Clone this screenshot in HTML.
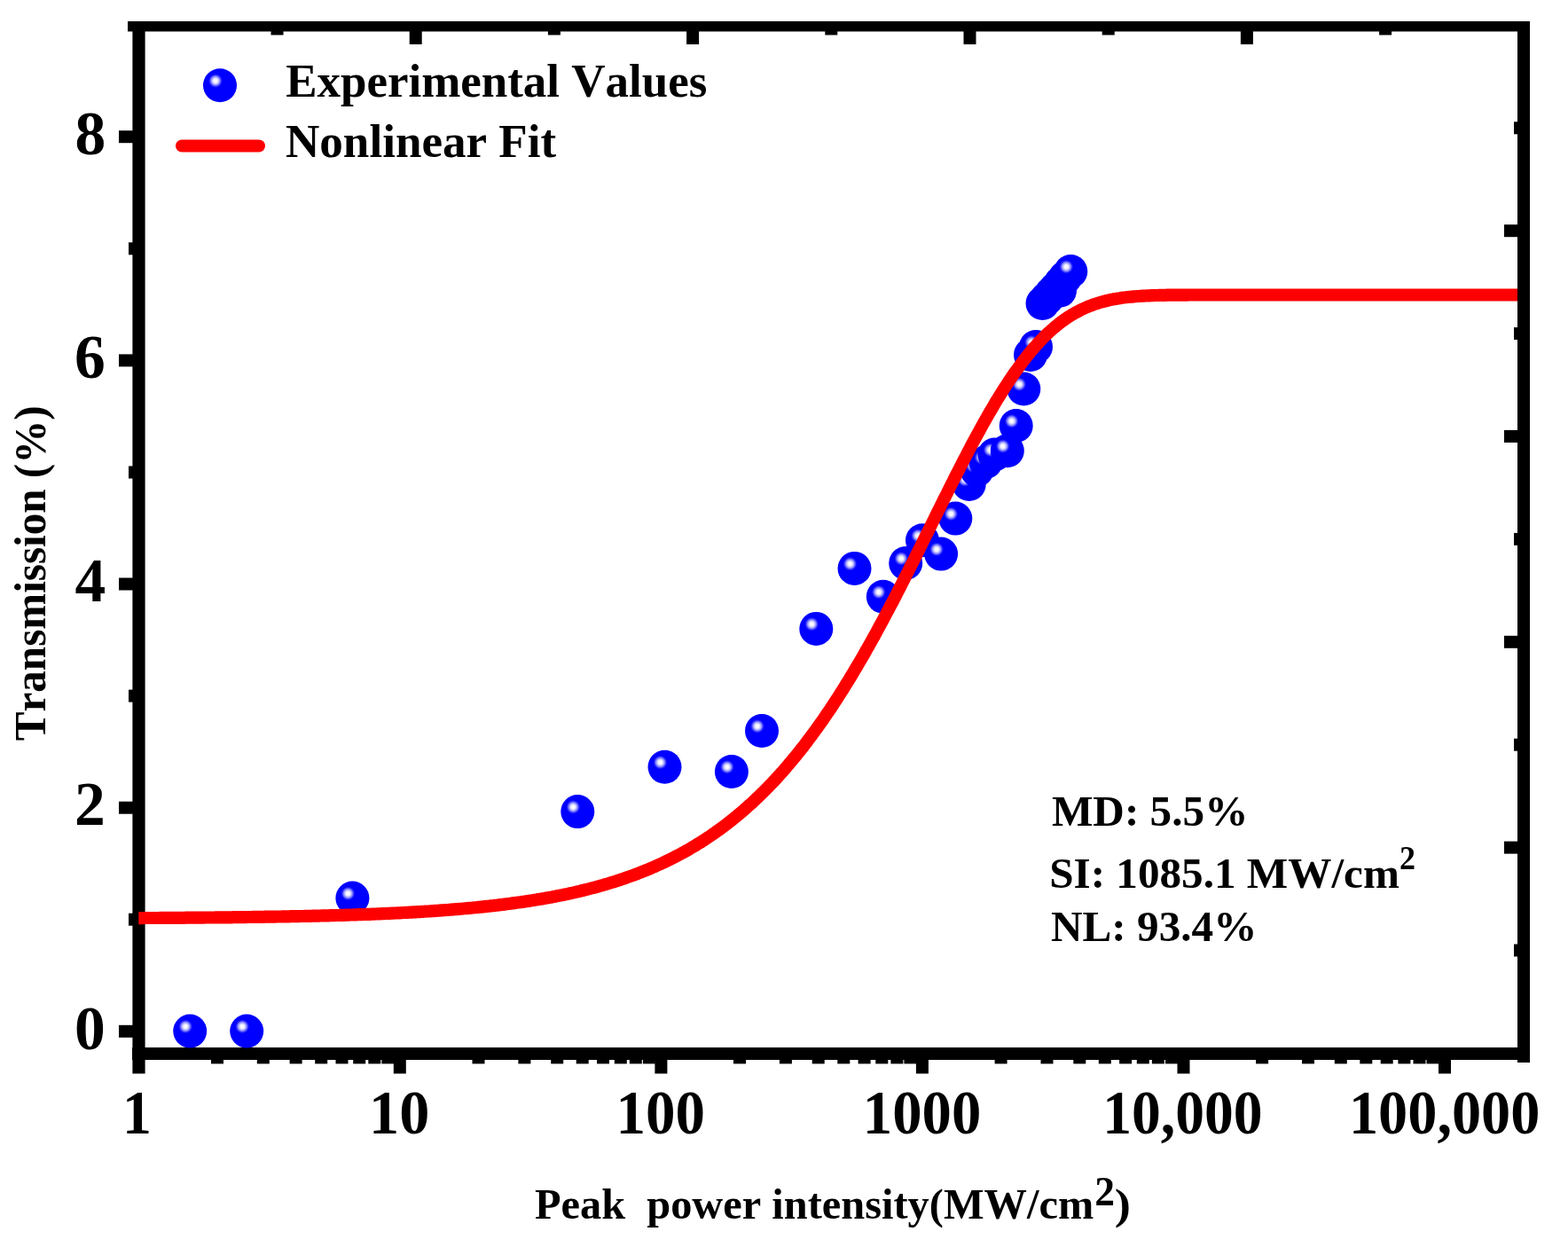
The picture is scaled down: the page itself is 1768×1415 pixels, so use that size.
<!DOCTYPE html><html><head><meta charset="utf-8"><title>Transmission vs Peak power intensity</title><style>html,body{margin:0;padding:0;background:#fff;overflow:hidden;}svg{display:block;}text{font-family:"Liberation Serif","Times New Roman",serif;font-weight:bold;fill:#000;font-kerning:none;white-space:pre;}</style></head><body><svg width="1768" height="1415" viewBox="0 0 1768 1415"><defs><radialGradient id="sph" cx="0.368" cy="0.363" r="0.21" fx="0.368" fy="0.363"><stop offset="0" stop-color="#ffffff"/><stop offset="0.3" stop-color="#f0f0ff"/><stop offset="0.6" stop-color="#9090ff"/><stop offset="0.85" stop-color="#2020ff"/><stop offset="1" stop-color="#0000ff"/></radialGradient></defs><rect x="0" y="0" width="1768" height="1415" fill="#fff"/><g fill="#000"><rect x="144.0" y="24.0" width="1581.0" height="11.5"/><rect x="149.4" y="24.0" width="14.2" height="1186.5"/><rect x="1711.0" y="24.0" width="14.0" height="1174.0"/><rect x="149.0" y="1181.0" width="1576.0" height="14.0"/><rect x="238.0" y="1188.0" width="14.0" height="11.4"/><rect x="289.8" y="1188.0" width="14.0" height="11.4"/><rect x="326.6" y="1188.0" width="14.0" height="11.4"/><rect x="355.2" y="1188.0" width="14.0" height="11.4"/><rect x="378.5" y="1188.0" width="14.0" height="11.4"/><rect x="398.2" y="1188.0" width="14.0" height="11.4"/><rect x="415.3" y="1188.0" width="14.0" height="11.4"/><rect x="430.4" y="1188.0" width="14.0" height="11.4"/><rect x="443.8" y="1188.0" width="14.0" height="22.5"/><rect x="532.5" y="1188.0" width="14.0" height="11.4"/><rect x="584.4" y="1188.0" width="14.0" height="11.4"/><rect x="621.2" y="1188.0" width="14.0" height="11.4"/><rect x="649.7" y="1188.0" width="14.0" height="11.4"/><rect x="673.0" y="1188.0" width="14.0" height="11.4"/><rect x="692.8" y="1188.0" width="14.0" height="11.4"/><rect x="709.8" y="1188.0" width="14.0" height="11.4"/><rect x="724.9" y="1188.0" width="14.0" height="11.4"/><rect x="738.4" y="1188.0" width="14.0" height="22.5"/><rect x="827.0" y="1188.0" width="14.0" height="11.4"/><rect x="878.9" y="1188.0" width="14.0" height="11.4"/><rect x="915.7" y="1188.0" width="14.0" height="11.4"/><rect x="944.3" y="1188.0" width="14.0" height="11.4"/><rect x="967.6" y="1188.0" width="14.0" height="11.4"/><rect x="987.3" y="1188.0" width="14.0" height="11.4"/><rect x="1004.4" y="1188.0" width="14.0" height="11.4"/><rect x="1019.4" y="1188.0" width="14.0" height="11.4"/><rect x="1032.9" y="1188.0" width="14.0" height="22.5"/><rect x="1121.6" y="1188.0" width="14.0" height="11.4"/><rect x="1173.5" y="1188.0" width="14.0" height="11.4"/><rect x="1210.3" y="1188.0" width="14.0" height="11.4"/><rect x="1238.8" y="1188.0" width="14.0" height="11.4"/><rect x="1262.1" y="1188.0" width="14.0" height="11.4"/><rect x="1281.8" y="1188.0" width="14.0" height="11.4"/><rect x="1298.9" y="1188.0" width="14.0" height="11.4"/><rect x="1314.0" y="1188.0" width="14.0" height="11.4"/><rect x="1327.5" y="1188.0" width="14.0" height="22.5"/><rect x="1416.1" y="1188.0" width="14.0" height="11.4"/><rect x="1468.0" y="1188.0" width="14.0" height="11.4"/><rect x="1504.8" y="1188.0" width="14.0" height="11.4"/><rect x="1533.3" y="1188.0" width="14.0" height="11.4"/><rect x="1556.7" y="1188.0" width="14.0" height="11.4"/><rect x="1576.4" y="1188.0" width="14.0" height="11.4"/><rect x="1593.5" y="1188.0" width="14.0" height="11.4"/><rect x="1608.5" y="1188.0" width="14.0" height="11.4"/><rect x="1622.0" y="1188.0" width="14.0" height="22.5"/><rect x="305.5" y="30.0" width="14.0" height="9.5"/><rect x="461.7" y="30.0" width="14.0" height="20.0"/><rect x="617.9" y="30.0" width="14.0" height="9.5"/><rect x="774.1" y="30.0" width="14.0" height="20.0"/><rect x="930.3" y="30.0" width="14.0" height="9.5"/><rect x="1086.5" y="30.0" width="14.0" height="20.0"/><rect x="1242.7" y="30.0" width="14.0" height="9.5"/><rect x="1398.9" y="30.0" width="14.0" height="20.0"/><rect x="1555.1" y="30.0" width="14.0" height="9.5"/><rect x="1707.0" y="137.3" width="11.0" height="14.0"/><rect x="1696.0" y="253.2" width="22.0" height="14.0"/><rect x="1707.0" y="369.1" width="11.0" height="14.0"/><rect x="1696.0" y="485.0" width="22.0" height="14.0"/><rect x="1707.0" y="600.9" width="11.0" height="14.0"/><rect x="1696.0" y="716.8" width="22.0" height="14.0"/><rect x="1707.0" y="832.7" width="11.0" height="14.0"/><rect x="1696.0" y="948.6" width="22.0" height="14.0"/><rect x="1707.0" y="1064.5" width="11.0" height="14.0"/><rect x="134.0" y="1155.8" width="22.0" height="14.0"/><rect x="145.0" y="1029.7" width="11.0" height="14.0"/><rect x="134.0" y="903.7" width="22.0" height="14.0"/><rect x="145.0" y="777.6" width="11.0" height="14.0"/><rect x="134.0" y="651.5" width="22.0" height="14.0"/><rect x="145.0" y="525.5" width="11.0" height="14.0"/><rect x="134.0" y="399.4" width="22.0" height="14.0"/><rect x="145.0" y="273.3" width="11.0" height="14.0"/><rect x="134.0" y="147.2" width="22.0" height="14.0"/></g><g><circle cx="214.2" cy="1162.6" r="19.0" fill="url(#sph)"/><circle cx="278.2" cy="1162.6" r="19.0" fill="url(#sph)"/><circle cx="397.4" cy="1012.6" r="19.0" fill="url(#sph)"/><circle cx="651.3" cy="915.1" r="19.0" fill="url(#sph)"/><circle cx="749.5" cy="864.8" r="19.0" fill="url(#sph)"/><circle cx="824.9" cy="870.0" r="19.0" fill="url(#sph)"/><circle cx="859.0" cy="824.0" r="19.0" fill="url(#sph)"/><circle cx="920.3" cy="708.9" r="19.0" fill="url(#sph)"/><circle cx="963.5" cy="640.9" r="19.0" fill="url(#sph)"/><circle cx="995.8" cy="672.8" r="19.0" fill="url(#sph)"/><circle cx="1021.2" cy="635.0" r="19.0" fill="url(#sph)"/><circle cx="1040.0" cy="609.2" r="19.0" fill="url(#sph)"/><circle cx="1061.1" cy="624.6" r="19.0" fill="url(#sph)"/><circle cx="1077.3" cy="584.6" r="19.0" fill="url(#sph)"/><circle cx="1092.7" cy="546.0" r="19.0" fill="url(#sph)"/><circle cx="1101.5" cy="530.0" r="19.0" fill="url(#sph)"/><circle cx="1111.5" cy="521.0" r="19.0" fill="url(#sph)"/><circle cx="1121.5" cy="512.5" r="19.0" fill="url(#sph)"/><circle cx="1135.8" cy="508.3" r="19.0" fill="url(#sph)"/><circle cx="1145.7" cy="480.0" r="19.0" fill="url(#sph)"/><circle cx="1154.3" cy="438.5" r="19.0" fill="url(#sph)"/><circle cx="1162.0" cy="400.0" r="19.0" fill="url(#sph)"/><circle cx="1168.0" cy="391.0" r="19.0" fill="url(#sph)"/><circle cx="1175.5" cy="342.0" r="19.0" fill="url(#sph)"/><circle cx="1180.5" cy="336.5" r="19.0" fill="url(#sph)"/><circle cx="1185.5" cy="331.0" r="19.0" fill="url(#sph)"/><circle cx="1190.5" cy="325.5" r="19.0" fill="url(#sph)"/><circle cx="1195.0" cy="327.8" r="19.0" fill="url(#sph)"/><circle cx="1196.0" cy="319.0" r="19.0" fill="url(#sph)"/><circle cx="1201.0" cy="313.0" r="19.0" fill="url(#sph)"/><circle cx="1207.3" cy="306.0" r="19.0" fill="url(#sph)"/></g><polyline points="156.3,1035.1 158.5,1035.1 160.8,1035.1 163.0,1035.0 165.2,1035.0 167.5,1035.0 169.7,1035.0 171.9,1035.0 174.1,1035.0 176.4,1035.0 178.6,1035.0 180.8,1034.9 183.1,1034.9 185.3,1034.9 187.5,1034.9 189.8,1034.9 192.0,1034.9 194.2,1034.9 196.4,1034.8 198.7,1034.8 200.9,1034.8 203.1,1034.8 205.4,1034.8 207.6,1034.8 209.8,1034.7 212.1,1034.7 214.3,1034.7 216.5,1034.7 218.8,1034.7 221.0,1034.6 223.2,1034.6 225.4,1034.6 227.7,1034.6 229.9,1034.6 232.1,1034.5 234.4,1034.5 236.6,1034.5 238.8,1034.5 241.1,1034.5 243.3,1034.4 245.5,1034.4 247.8,1034.4 250.0,1034.4 252.2,1034.4 254.4,1034.3 256.7,1034.3 258.9,1034.3 261.1,1034.3 263.4,1034.2 265.6,1034.2 267.8,1034.2 270.1,1034.1 272.3,1034.1 274.5,1034.1 276.7,1034.1 279.0,1034.0 281.2,1034.0 283.4,1034.0 285.7,1033.9 287.9,1033.9 290.1,1033.9 292.4,1033.8 294.6,1033.8 296.8,1033.8 299.1,1033.7 301.3,1033.7 303.5,1033.7 305.7,1033.6 308.0,1033.6 310.2,1033.6 312.4,1033.5 314.7,1033.5 316.9,1033.5 319.1,1033.4 321.4,1033.4 323.6,1033.3 325.8,1033.3 328.1,1033.2 330.3,1033.2 332.5,1033.2 334.7,1033.1 337.0,1033.1 339.2,1033.0 341.4,1033.0 343.7,1032.9 345.9,1032.9 348.1,1032.8 350.4,1032.8 352.6,1032.7 354.8,1032.7 357.0,1032.6 359.3,1032.6 361.5,1032.5 363.7,1032.4 366.0,1032.4 368.2,1032.3 370.4,1032.3 372.7,1032.2 374.9,1032.2 377.1,1032.1 379.4,1032.0 381.6,1032.0 383.8,1031.9 386.0,1031.8 388.3,1031.8 390.5,1031.7 392.7,1031.6 395.0,1031.5 397.2,1031.5 399.4,1031.4 401.7,1031.3 403.9,1031.2 406.1,1031.2 408.3,1031.1 410.6,1031.0 412.8,1030.9 415.0,1030.8 417.3,1030.8 419.5,1030.7 421.7,1030.6 424.0,1030.5 426.2,1030.4 428.4,1030.3 430.7,1030.2 432.9,1030.1 435.1,1030.0 437.3,1029.9 439.6,1029.8 441.8,1029.7 444.0,1029.6 446.3,1029.5 448.5,1029.4 450.7,1029.3 453.0,1029.2 455.2,1029.0 457.4,1028.9 459.7,1028.8 461.9,1028.7 464.1,1028.6 466.3,1028.4 468.6,1028.3 470.8,1028.2 473.0,1028.1 475.3,1027.9 477.5,1027.8 479.7,1027.6 482.0,1027.5 484.2,1027.4 486.4,1027.2 488.6,1027.1 490.9,1026.9 493.1,1026.8 495.3,1026.6 497.6,1026.4 499.8,1026.3 502.0,1026.1 504.3,1026.0 506.5,1025.8 508.7,1025.6 511.0,1025.4 513.2,1025.2 515.4,1025.1 517.6,1024.9 519.9,1024.7 522.1,1024.5 524.3,1024.3 526.6,1024.1 528.8,1023.9 531.0,1023.7 533.3,1023.5 535.5,1023.3 537.7,1023.1 539.9,1022.8 542.2,1022.6 544.4,1022.4 546.6,1022.1 548.9,1021.9 551.1,1021.7 553.3,1021.4 555.6,1021.2 557.8,1020.9 560.0,1020.7 562.3,1020.4 564.5,1020.1 566.7,1019.9 568.9,1019.6 571.2,1019.3 573.4,1019.0 575.6,1018.7 577.9,1018.4 580.1,1018.1 582.3,1017.8 584.6,1017.5 586.8,1017.2 589.0,1016.9 591.3,1016.6 593.5,1016.2 595.7,1015.9 597.9,1015.5 600.2,1015.2 602.4,1014.8 604.6,1014.5 606.9,1014.1 609.1,1013.7 611.3,1013.4 613.6,1013.0 615.8,1012.6 618.0,1012.2 620.2,1011.8 622.5,1011.4 624.7,1010.9 626.9,1010.5 629.2,1010.1 631.4,1009.6 633.6,1009.2 635.9,1008.7 638.1,1008.3 640.3,1007.8 642.6,1007.3 644.8,1006.8 647.0,1006.3 649.2,1005.8 651.5,1005.3 653.7,1004.8 655.9,1004.2 658.2,1003.7 660.4,1003.1 662.6,1002.6 664.9,1002.0 667.1,1001.4 669.3,1000.9 671.6,1000.3 673.8,999.7 676.0,999.0 678.2,998.4 680.5,997.8 682.7,997.1 684.9,996.5 687.2,995.8 689.4,995.1 691.6,994.4 693.9,993.7 696.1,993.0 698.3,992.3 700.5,991.5 702.8,990.8 705.0,990.0 707.2,989.2 709.5,988.4 711.7,987.6 713.9,986.8 716.2,986.0 718.4,985.2 720.6,984.3 722.9,983.4 725.1,982.5 727.3,981.6 729.5,980.7 731.8,979.8 734.0,978.9 736.2,977.9 738.5,976.9 740.7,975.9 742.9,974.9 745.2,973.9 747.4,972.9 749.6,971.8 751.8,970.8 754.1,969.7 756.3,968.6 758.5,967.4 760.8,966.3 763.0,965.1 765.2,964.0 767.5,962.8 769.7,961.6 771.9,960.3 774.2,959.1 776.4,957.8 778.6,956.5 780.8,955.2 783.1,953.9 785.3,952.5 787.5,951.1 789.8,949.8 792.0,948.3 794.2,946.9 796.5,945.4 798.7,944.0 800.9,942.5 803.2,940.9 805.4,939.4 807.6,937.8 809.8,936.2 812.1,934.6 814.3,933.0 816.5,931.3 818.8,929.6 821.0,927.9 823.2,926.2 825.5,924.4 827.7,922.6 829.9,920.8 832.1,918.9 834.4,917.1 836.6,915.2 838.8,913.2 841.1,911.3 843.3,909.3 845.5,907.3 847.8,905.3 850.0,903.2 852.2,901.1 854.5,899.0 856.7,896.8 858.9,894.7 861.1,892.5 863.4,890.2 865.6,888.0 867.8,885.7 870.1,883.3 872.3,881.0 874.5,878.6 876.8,876.1 879.0,873.7 881.2,871.2 883.5,868.7 885.7,866.1 887.9,863.5 890.1,860.9 892.4,858.3 894.6,855.6 896.8,852.9 899.1,850.1 901.3,847.3 903.5,844.5 905.8,841.7 908.0,838.8 910.2,835.9 912.4,832.9 914.7,829.9 916.9,826.9 919.1,823.9 921.4,820.8 923.6,817.7 925.8,814.5 928.1,811.3 930.3,808.1 932.5,804.8 934.8,801.5 937.0,798.2 939.2,794.8 941.4,791.4 943.7,788.0 945.9,784.5 948.1,781.0 950.4,777.5 952.6,773.9 954.8,770.3 957.1,766.7 959.3,763.0 961.5,759.3 963.7,755.6 966.0,751.8 968.2,748.0 970.4,744.2 972.7,740.4 974.9,736.5 977.1,732.5 979.4,728.6 981.6,724.6 983.8,720.6 986.1,716.6 988.3,712.5 990.5,708.4 992.7,704.3 995.0,700.1 997.2,696.0 999.4,691.8 1001.7,687.6 1003.9,683.3 1006.1,679.1 1008.4,674.8 1010.6,670.5 1012.8,666.1 1015.1,661.8 1017.3,657.4 1019.5,653.0 1021.7,648.6 1024.0,644.2 1026.2,639.8 1028.4,635.4 1030.7,630.9 1032.9,626.4 1035.1,622.0 1037.4,617.5 1039.6,613.0 1041.8,608.5 1044.0,604.0 1046.3,599.5 1048.5,595.0 1050.7,590.5 1053.0,585.9 1055.2,581.4 1057.4,576.9 1059.7,572.4 1061.9,567.9 1064.1,563.4 1066.4,559.0 1068.6,554.5 1070.8,550.0 1073.0,545.6 1075.3,541.2 1077.5,536.7 1079.7,532.4 1082.0,528.0 1084.2,523.6 1086.4,519.3 1088.7,515.0 1090.9,510.7 1093.1,506.5 1095.3,502.2 1097.6,498.0 1099.8,493.9 1102.0,489.8 1104.3,485.7 1106.5,481.6 1108.7,477.6 1111.0,473.6 1113.2,469.7 1115.4,465.8 1117.7,462.0 1119.9,458.2 1122.1,454.4 1124.3,450.7 1126.6,447.1 1128.8,443.5 1131.0,439.9 1133.3,436.4 1135.5,433.0 1137.7,429.6 1140.0,426.3 1142.2,423.0 1144.4,419.8 1146.7,416.7 1148.9,413.6 1151.1,410.6 1153.3,407.6 1155.6,404.7 1157.8,401.9 1160.0,399.1 1162.3,396.4 1164.5,393.8 1166.7,391.2 1169.0,388.7 1171.2,386.2 1173.4,383.9 1175.6,381.6 1177.9,379.3 1180.1,377.1 1182.3,375.0 1184.6,373.0 1186.8,371.0 1189.0,369.1 1191.3,367.2 1193.5,365.4 1195.7,363.7 1198.0,362.0 1200.2,360.4 1202.4,358.9 1204.6,357.4 1206.9,356.0 1209.1,354.6 1211.3,353.3 1213.6,352.1 1215.8,350.9 1218.0,349.7 1220.3,348.6 1222.5,347.6 1224.7,346.6 1227.0,345.7 1229.2,344.8 1231.4,344.0 1233.6,343.2 1235.9,342.4 1238.1,341.7 1240.3,341.0 1242.6,340.4 1244.8,339.8 1247.0,339.2 1249.3,338.7 1251.5,338.2 1253.7,337.7 1255.9,337.3 1258.2,336.9 1260.4,336.5 1262.6,336.2 1264.9,335.8 1267.1,335.5 1269.3,335.3 1271.6,335.0 1273.8,334.8 1276.0,334.6 1278.3,334.4 1280.5,334.2 1282.7,334.0 1284.9,333.9 1287.2,333.7 1289.4,333.6 1291.6,333.5 1293.9,333.4 1296.1,333.3 1298.3,333.2 1300.6,333.1 1302.8,333.0 1305.0,333.0 1307.2,332.9 1309.5,332.9 1311.7,332.8 1313.9,332.8 1316.2,332.7 1318.4,332.7 1320.6,332.7 1322.9,332.7 1325.1,332.6 1327.3,332.6 1329.6,332.6 1331.8,332.6 1334.0,332.6 1336.2,332.6 1338.5,332.6 1340.7,332.5 1342.9,332.5 1345.2,332.5 1347.4,332.5 1349.6,332.5 1351.9,332.5 1354.1,332.5 1356.3,332.5 1358.6,332.5 1360.8,332.5 1363.0,332.5 1365.2,332.5 1367.5,332.5 1369.7,332.5 1371.9,332.5 1374.2,332.5 1376.4,332.5 1378.6,332.5 1380.9,332.5 1383.1,332.5 1385.3,332.5 1387.5,332.5 1389.8,332.5 1392.0,332.5 1394.2,332.5 1396.5,332.5 1398.7,332.5 1400.9,332.5 1403.2,332.5 1405.4,332.5 1407.6,332.5 1409.9,332.5 1412.1,332.5 1414.3,332.5 1416.5,332.5 1418.8,332.5 1421.0,332.5 1423.2,332.5 1425.5,332.5 1427.7,332.5 1429.9,332.5 1432.2,332.5 1434.4,332.5 1436.6,332.5 1438.9,332.5 1441.1,332.5 1443.3,332.5 1445.5,332.5 1447.8,332.5 1450.0,332.5 1452.2,332.5 1454.5,332.5 1456.7,332.5 1458.9,332.5 1461.2,332.5 1463.4,332.5 1465.6,332.5 1467.8,332.5 1470.1,332.5 1472.3,332.5 1474.5,332.5 1476.8,332.5 1479.0,332.5 1481.2,332.5 1483.5,332.5 1485.7,332.5 1487.9,332.5 1490.2,332.5 1492.4,332.5 1494.6,332.5 1496.8,332.5 1499.1,332.5 1501.3,332.5 1503.5,332.5 1505.8,332.5 1508.0,332.5 1510.2,332.5 1512.5,332.5 1514.7,332.5 1516.9,332.5 1519.1,332.5 1521.4,332.5 1523.6,332.5 1525.8,332.5 1528.1,332.5 1530.3,332.5 1532.5,332.5 1534.8,332.5 1537.0,332.5 1539.2,332.5 1541.5,332.5 1543.7,332.5 1545.9,332.5 1548.1,332.5 1550.4,332.5 1552.6,332.5 1554.8,332.5 1557.1,332.5 1559.3,332.5 1561.5,332.5 1563.8,332.5 1566.0,332.5 1568.2,332.5 1570.5,332.5 1572.7,332.5 1574.9,332.5 1577.1,332.5 1579.4,332.5 1581.6,332.5 1583.8,332.5 1586.1,332.5 1588.3,332.5 1590.5,332.5 1592.8,332.5 1595.0,332.5 1597.2,332.5 1599.4,332.5 1601.7,332.5 1603.9,332.5 1606.1,332.5 1608.4,332.5 1610.6,332.5 1612.8,332.5 1615.1,332.5 1617.3,332.5 1619.5,332.5 1621.8,332.5 1624.0,332.5 1626.2,332.5 1628.4,332.5 1630.7,332.5 1632.9,332.5 1635.1,332.5 1637.4,332.5 1639.6,332.5 1641.8,332.5 1644.1,332.5 1646.3,332.5 1648.5,332.5 1650.7,332.5 1653.0,332.5 1655.2,332.5 1657.4,332.5 1659.7,332.5 1661.9,332.5 1664.1,332.5 1666.4,332.5 1668.6,332.5 1670.8,332.5 1673.1,332.5 1675.3,332.5 1677.5,332.5 1679.7,332.5 1682.0,332.5 1684.2,332.5 1686.4,332.5 1688.7,332.5 1690.9,332.5 1693.1,332.5 1695.4,332.5 1697.6,332.5 1699.8,332.5 1702.1,332.5 1704.3,332.5 1706.5,332.5 1708.7,332.5 1711.0,332.5 1711.0,332.5" fill="none" stroke="#ff0000" stroke-width="14.2" stroke-linejoin="round"/><circle cx="248" cy="96.3" r="19.0" fill="url(#sph)"/><line x1="205" y1="164.5" x2="292" y2="164.5" stroke="#ff0000" stroke-width="14" stroke-linecap="round"/><text transform="translate(84.10,1182.60)" font-size="69.5">0</text><text transform="translate(84.10,930.46)" font-size="69.5">2</text><text transform="translate(84.60,678.32)" font-size="69.5">4</text><text transform="translate(84.10,426.18)" font-size="69.5">6</text><text transform="translate(84.60,174.04)" font-size="69.5">8</text><text transform="translate(137.91,1278.20) scale(0.9480,1)" font-size="69.5">1</text><text transform="translate(416.01,1278.20) scale(0.9820,1)" font-size="69.5">10</text><text transform="translate(694.41,1278.20) scale(0.9646,1)" font-size="69.5">100</text><text transform="translate(972.84,1278.20) scale(0.9600,1)" font-size="69.5">1000</text><text transform="translate(1243.23,1278.20) scale(0.9443,1)" font-size="69.5">10,000</text><text transform="translate(1520.98,1278.20) scale(0.9539,1)" font-size="69.5">100,000</text><text transform="translate(322.20,109.30) scale(0.9994,1)" font-size="53">Experimental Values</text><text transform="translate(322.00,176.80) scale(1.0017,1)" font-size="53">Nonlinear Fit</text><text transform="translate(1185.91,931.00) scale(0.9945,1)" font-size="49.5">MD: 5.5%</text><text transform="translate(1183.22,1000.50) scale(0.9934,1)" font-size="49.5">SI: 1085.1 MW/cm</text><text transform="translate(1578.05,979.80) scale(0.9733,1)" font-size="37">2</text><text transform="translate(1185.01,1061.20) scale(0.9943,1)" font-size="49.5">NL: 93.4%</text><text transform="translate(602.92,1374.30) scale(0.9798,1)" font-size="49.4">Peak  power intensity(MW/cm</text><text transform="translate(1234.22,1358.50) scale(0.9895,1)" font-size="46">2</text><text transform="translate(1256.78,1374.30) scale(1.1083,1)" font-size="49.4">)</text><text transform="translate(50.90,835.27) rotate(-90) scale(0.9727,1)" font-size="50.5">Transmission (%)</text></svg></body></html>
